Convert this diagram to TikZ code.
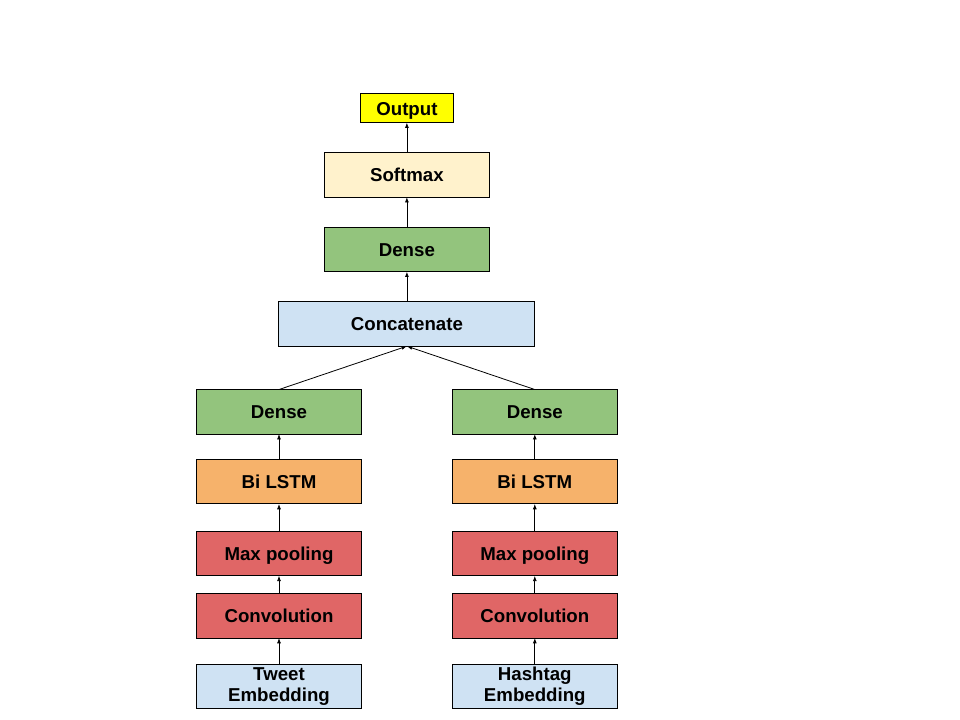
\documentclass[tikz,border=0pt]{standalone}
\usepackage{fontspec}
\setmainfont{Liberation Sans}
\definecolor{outyellow}{HTML}{FFFF00}
\definecolor{softcream}{HTML}{FFF2CC}
\definecolor{densegreen}{HTML}{93C47D}
\definecolor{paleblue}{HTML}{CFE2F3}
\definecolor{lstmorange}{HTML}{F6B26B}
\definecolor{convred}{HTML}{E06666}
\usetikzlibrary{positioning,calc,arrows.meta}

\begin{document}
\begin{tikzpicture}[
  node distance=22.5pt,
  every node/.style={font=\fontsize{14}{16}\selectfont\bfseries},
  box/.style={draw,line width=0.75pt,outer sep=0pt,minimum width=123.75pt,minimum height=33.4pt,align=center,inner sep=1pt},
  layer/.style={box,text height=13pt,text depth=2.5pt},
  arrow/.style={-{Latex[length=4pt,width=3pt]},line width=0.6pt}
]
  \useasboundingbox[fill=white] (0,0) rectangle (720pt,-540pt);
  % left branch
  \node[box,fill=paleblue] (tweet) at (209.25pt,-514.7pt) {Tweet\\Embedding};
  \node[layer,fill=convred,above=19.5pt of tweet] (tconv) {Convolution};
  \node[layer,fill=convred,above=13.25pt of tconv] (tpool) {Max pooling};
  \node[layer,fill=lstmorange,above=20.5pt of tpool] (tlstm) {Bi LSTM};
  \node[layer,fill=densegreen,above=19pt of tlstm] (tdense) {Dense};
  % right branch
  \node[box,fill=paleblue] (hashtag) at (401.1pt,-514.7pt) {Hashtag\\Embedding};
  \node[layer,fill=convred,above=19.5pt of hashtag] (hconv) {Convolution};
  \node[layer,fill=convred,above=13.25pt of hconv] (hpool) {Max pooling};
  \node[layer,fill=lstmorange,above=20.5pt of hpool] (hlstm) {Bi LSTM};
  \node[layer,fill=densegreen,above=19pt of hlstm] (hdense) {Dense};
  % merged part
  \coordinate (mid) at ($(tdense.north)!0.5!(hdense.north)$);
  \node[layer,fill=paleblue,minimum width=192pt,above=32.5pt of mid] (concat) {Concatenate};
  \node[layer,fill=densegreen,above=of concat] (dense) {Dense};
  \node[layer,fill=softcream,above=of dense] (softmax) {Softmax};
  \node[layer,fill=outyellow,minimum width=69.5pt,minimum height=21.75pt,above=of softmax] (output) {Output};

  \draw[arrow] (tweet) -- (tconv);
  \draw[arrow] (tconv) -- (tpool);
  \draw[arrow] (tpool) -- (tlstm);
  \draw[arrow] (tlstm) -- (tdense);
  \draw[arrow] (hashtag) -- (hconv);
  \draw[arrow] (hconv) -- (hpool);
  \draw[arrow] (hpool) -- (hlstm);
  \draw[arrow] (hlstm) -- (hdense);
  \draw[arrow] (tdense.north) -- (concat.south);
  \draw[arrow] (hdense.north) -- (concat.south);
  \draw[arrow] (concat) -- (dense);
  \draw[arrow] (dense) -- (softmax);
  \draw[arrow] (softmax) -- (output);
\end{tikzpicture}
\end{document}
